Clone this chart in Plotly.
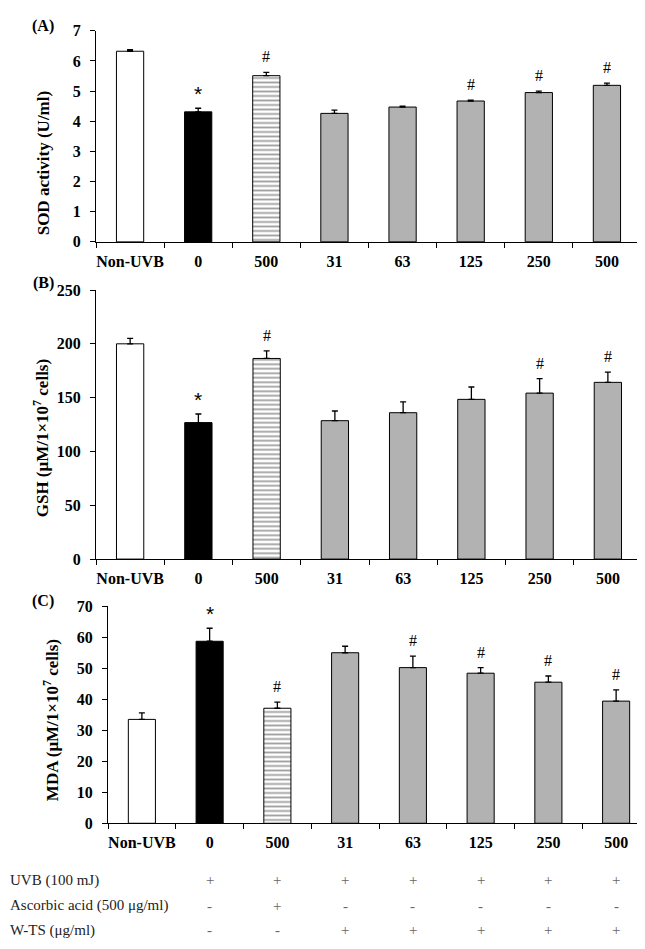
import plotly.graph_objects as go

categories = ["Non-UVB", "0", "500", "31", "63", "125", "250", "500"]

sod = [6.32, 4.31, 5.51, 4.26, 4.47, 4.67, 4.95, 5.19]
sod_err = [0.05, 0.12, 0.11, 0.11, 0.03, 0.03, 0.05, 0.07]
sod_marks = ["", "*", "#", "", "", "#", "#", "#"]

gsh = [200, 126.8, 186.4, 128.6, 136, 148.4, 154.2, 164.2]
gsh_err = [5, 8, 7, 9, 10, 11.5, 13.4, 9.5]
gsh_marks = ["", "*", "#", "", "", "", "#", "#"]

mda = [33.5, 58.7, 37.1, 55.0, 50.2, 48.4, 45.5, 39.4]
mda_err = [2.1, 4.2, 2.0, 2.1, 3.7, 1.8, 2.0, 3.6]
mda_marks = ["", "*", "#", "", "#", "#", "#", "#"]

table_labels = ["UVB (100 mJ)", "Ascorbic acid (500 μg/ml)", "W-TS (μg/ml)"]
uvb_row = ["+", "+", "+", "+", "+", "+", "+"]
aa_row = ["-", "+", "-", "-", "-", "-", "-"]
wts_row = ["-", "-", "+", "+", "+", "+", "+"]

W, H = 645, 949
FONT = "Liberation Serif"
bar_colors = ["white", "black", "white", "#b2b2b2", "#b2b2b2", "#b2b2b2", "#b2b2b2", "#b2b2b2"]
bar_patterns = ["", "", "-", "", "", "", "", ""]

def px_x(p):
    return p / W

def px_y(p):
    return 1 - p / H

panels = [
    dict(vals=sod, err=sod_err, marks=sod_marks, x0=88, x1=633, y0=15, y1=230,
         yrange=[0, 7], dtick=1, title="SOD activity (U/ml)", title_x=35, title_y=150,
         label="(A)", label_x=35, label_y=10),
    dict(vals=gsh, err=gsh_err, marks=gsh_marks, x0=88, x1=634, y0=279, y1=553,
         yrange=[0, 250], dtick=50, title="GSH (μM/1×10<sup>7</sup> cells)", title_x=33, title_y=430,
         label="(B)", label_x=35, label_y=272),
    dict(vals=mda, err=mda_err, marks=mda_marks, x0=100, x1=642, y0=601, y1=822,
         yrange=[0, 70], dtick=10, title="MDA (μM/1×10<sup>7</sup> cells)", title_x=43, title_y=717,
         label="(C)", label_x=35, label_y=596),
]

fig = go.Figure()
annotations = []
keys = ["c%d" % k for k in range(len(categories))]

for i, p in enumerate(panels):
    suffix = "" if i == 0 else str(i + 1)
    fig.add_trace(go.Bar(
        x=keys, y=p["vals"], width=0.4,
        marker=dict(color=bar_colors, line=dict(color="black", width=1),
                    pattern=dict(shape=bar_patterns, fgcolor="black", bgcolor="white",
                                 size=4.5, solidity=0.4)),
        error_y=dict(type="data", array=p["err"], arrayminus=[0] * len(keys), symmetric=False,
                     color="black", thickness=1.3, width=3),
        xaxis="x" + suffix, yaxis="y" + suffix, showlegend=False,
    ))
    fig.update_layout(**{
        "xaxis" + suffix: dict(
            type="category", domain=[px_x(p["x0"]), px_x(p["x1"])], range=[-0.5, 7.5],
            tickmode="array", tickvals=keys, ticktext=categories, tickangle=0,
            tickson="boundaries", ticks="outside", ticklen=5, tickcolor="black",
            tickfont=dict(family=FONT, size=16, color="black", weight="bold"),
            ticklabelstandoff=5,
            showline=True, linecolor="black", linewidth=1, showgrid=False, zeroline=False,
            anchor="y" + suffix, fixedrange=True,
        ),
        "yaxis" + suffix: dict(
            domain=[px_y(p["y1"]), px_y(p["y0"])], range=p["yrange"], dtick=p["dtick"],
            ticks="outside", ticklen=5, tickcolor="black",
            showline=True, linecolor="black", linewidth=1, showgrid=False, zeroline=False,
            tickfont=dict(family=FONT, size=16, color="black", weight="bold"),
            ticklabelstandoff=6, anchor="x" + suffix, fixedrange=True,
        ),
    })
    # significance marks
    for j, m in enumerate(p["marks"]):
        if not m:
            continue
        annotations.append(dict(
            x=keys[j], xref="x" + suffix, y=p["vals"][j] + p["err"][j], yref="y" + suffix,
            text=m, showarrow=False, xanchor="center", yanchor="bottom",
            yshift=1 if m == "*" else 5,
            font=dict(family=FONT if m == "#" else "Liberation Sans", size=16 if m == "#" else 21,
                      color="black"),
        ))
    annotations.append(dict(
        x=px_x(p["title_x"]), y=px_y(p["title_y"]), xref="paper", yref="paper",
        text="<b>%s</b>" % p["title"], textangle=-90, showarrow=False,
        xanchor="center", yanchor="middle", font=dict(family=FONT, size=17, color="black"),
    ))
    annotations.append(dict(
        x=px_x(p["label_x"]), y=px_y(p["label_y"]), xref="paper", yref="paper",
        text="<b>%s</b>" % p["label"], showarrow=False,
        xanchor="center", yanchor="middle", font=dict(family=FONT, size=16, color="black"),
    ))

# treatment table (columns aligned with panel C categories 1..7)
row_y = [880, 906, 931]
for r, (lab, row) in enumerate(zip(table_labels, [uvb_row, aa_row, wts_row])):
    annotations.append(dict(
        x=0, y=px_y(row_y[r]), xref="paper", yref="paper", text=lab, showarrow=False,
        xanchor="left", yanchor="middle", font=dict(family=FONT, size=15, color="#222"),
    ))
    for k, s in enumerate(row):
        annotations.append(dict(
            x=keys[k + 1], y=px_y(row_y[r]), xref="x3", yref="paper",
            text=s, showarrow=False, xanchor="center", yanchor="middle",
            font=dict(family=FONT, size=15, color="#666"),
        ))

fig.update_layout(
    width=W, height=H, margin=dict(l=0, r=0, t=0, b=0),
    paper_bgcolor="white", plot_bgcolor="white",
    annotations=annotations,
    font=dict(family=FONT, color="black"),
)

fig.write_html("out.html")
